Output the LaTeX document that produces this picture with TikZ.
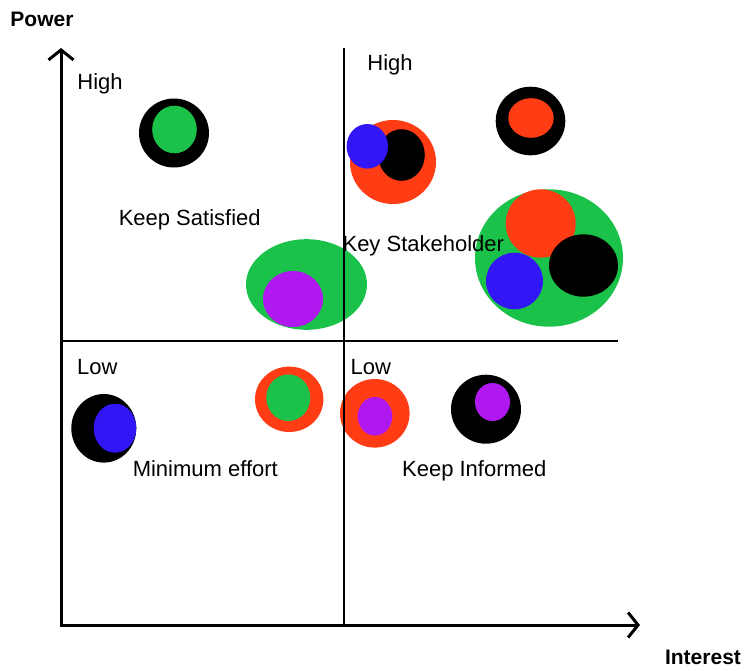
\documentclass[tikz,border=0pt]{standalone}
\usepackage{fontspec}
\setmainfont{Liberation Sans}
\usetikzlibrary{arrows.meta}
\definecolor{pgreen}{RGB}{27,194,74}
\definecolor{pred}{RGB}{255,60,20}
\definecolor{pblue}{RGB}{50,22,245}
\definecolor{ppurple}{RGB}{175,25,240}
\tikzstyle{quadlabel} = [anchor=base, inner sep=0pt, font=\fontsize{11}{13}\selectfont]
\tikzstyle{axislabel} = [anchor=base, inner sep=0pt, font=\fontsize{10.5}{12}\selectfont\bfseries]
\tikzstyle{axis} = [line width=1.5pt, {Straight Barb[length=5pt,width=12.5pt]}-{Straight Barb[length=5pt,width=12.5pt]}]
\tikzstyle{divider} = [line width=0.75pt]

\begin{document}
\begin{tikzpicture}[x=0.5pt, y=-0.5pt]
\useasboundingbox (0,0) rectangle (744,670);

\coordinate (ytop) at (61,48);
\coordinate (origin) at (61,625);
\coordinate (xend) at (640,625);
\coordinate (vtop) at (344,48);
\coordinate (vbot) at (344,627);
\coordinate (hleft) at (61,341);
\coordinate (hright) at (618,341);

% stakeholders, high power / low interest
\fill [black] (174,133) ellipse [x radius=35, y radius=34.5];
\fill [pgreen] (174.5,129.5) ellipse [x radius=22.3, y radius=23.8];
\fill [pgreen] (306.5,284.5) ellipse [x radius=60.5, y radius=45.3];
\fill [ppurple] (293,299) ellipse [x radius=30, y radius=28];

% high power / high interest
\fill [pred] (393,162) ellipse [x radius=43, y radius=42];
\fill [black] (401.5,155) ellipse [x radius=23.3, y radius=25.8];
\fill [pblue] (367.3,146.3) ellipse [x radius=20.7, y radius=22.3];
\fill [black] (530.5,121) ellipse [x radius=34.8, y radius=34.3];
\fill [pred] (531,118) ellipse [x radius=22.7, y radius=19.8];
\fill [pgreen] (549,258) ellipse [x radius=74, y radius=68.7];
\fill [pred] (540.7,223.5) ellipse [x radius=35, y radius=34.2];
\fill [black] (583.5,265.5) ellipse [x radius=34.5, y radius=31.2];
\fill [pblue] (514.5,281) ellipse [x radius=28.5, y radius=28.3];

% low power
\fill [black] (103.8,428.3) ellipse [x radius=32.5, y radius=34.3];
\fill [pblue] (115,428.2) ellipse [x radius=21.3, y radius=24.5];
\fill [pred] (289.2,399.3) ellipse [x radius=34.2, y radius=32.7];
\fill [pgreen] (288.3,397.7) ellipse [x radius=22, y radius=23.3];
\fill [pred] (374.8,413.3) ellipse [x radius=34.8, y radius=34.3];
\fill [ppurple] (375,416.3) ellipse [x radius=17.3, y radius=19.3];
\fill [black] (486,409.2) ellipse [x radius=35, y radius=34.5];
\fill [ppurple] (492.5,402) ellipse [x radius=17.5, y radius=19];

\draw [axis] (ytop) -- (origin) -- (xend);
\draw [divider] (vtop) -- (vbot);
\draw [divider] (hleft) -- (hright);

\node (power) [axislabel] at (42,26) {Power};
\node (interest) [axislabel] at (703,664) {Interest};

\node (highl) [quadlabel] at (100,89) {High};
\node (highr) [quadlabel] at (390,70) {High};
\node (lowl) [quadlabel] at (97.3,374.3) {Low};
\node (lowr) [quadlabel] at (370.8,374.3) {Low};
\node (sat) [quadlabel] at (189.7,225.5) {Keep Satisfied};
\node (key) [quadlabel] at (423.3,251.5) {Key Stakeholder};
\node (min) [quadlabel] at (205.3,476.5) {Minimum effort};
\node (inf) [quadlabel] at (474.3,476.5) {Keep Informed};
\end{tikzpicture}
\end{document}
